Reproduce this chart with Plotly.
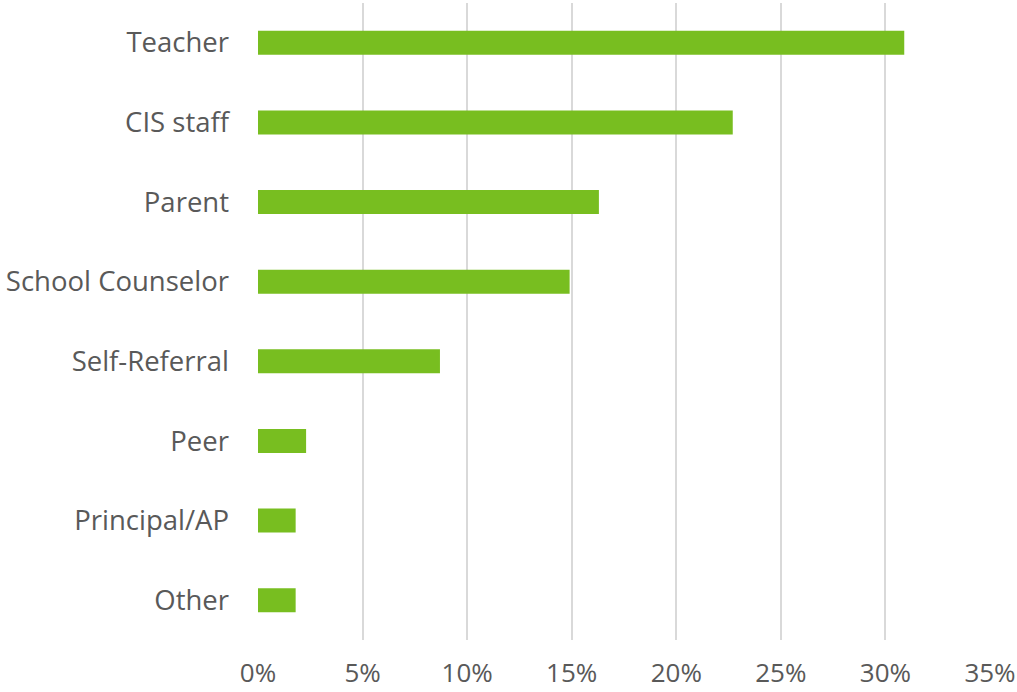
import plotly.graph_objects as go

categories = ["Teacher", "CIS staff", "Parent", "School Counselor", "Self-Referral", "Peer", "Principal/AP", "Other"]
values = [30.9, 22.7, 16.3, 14.9, 8.7, 2.3, 1.8, 1.8]
tick_vals = [0, 5, 10, 15, 20, 25, 30, 35]
tick_text = ["0%", "5%", "10%", "15%", "20%", "25%", "30%", "35%"]

fig = go.Figure(go.Bar(
    y=categories, x=values, orientation="h",
    marker=dict(color="#78BE20", line=dict(width=0)),
    width=0.3,
))
fig.update_layout(
    width=1017, height=692,
    margin=dict(l=258, r=27, t=3, b=52, autoexpand=False),
    paper_bgcolor="white", plot_bgcolor="white",
    font=dict(family="Open Sans", color="#595959", size=27),
    showlegend=False,
)
fig.update_xaxes(range=[0, 35], tickvals=tick_vals, ticktext=tick_text,
                 showgrid=True, gridcolor="#D9D9D9", gridwidth=2,
                 zeroline=False, showline=False, ticklabelstandoff=15,
                 automargin=False, tickfont=dict(size=26))
fig.update_yaxes(categoryorder="array", categoryarray=categories[::-1],
                 showgrid=False, zeroline=False, showline=False,
                 automargin=False,
                 ticklabelstandoff=28, tickfont=dict(size=27.5))
fig.write_html("out.html", config={"displayModeBar": False},
               post_script="document.body.style.margin='0px';document.body.style.overflow='hidden';")
